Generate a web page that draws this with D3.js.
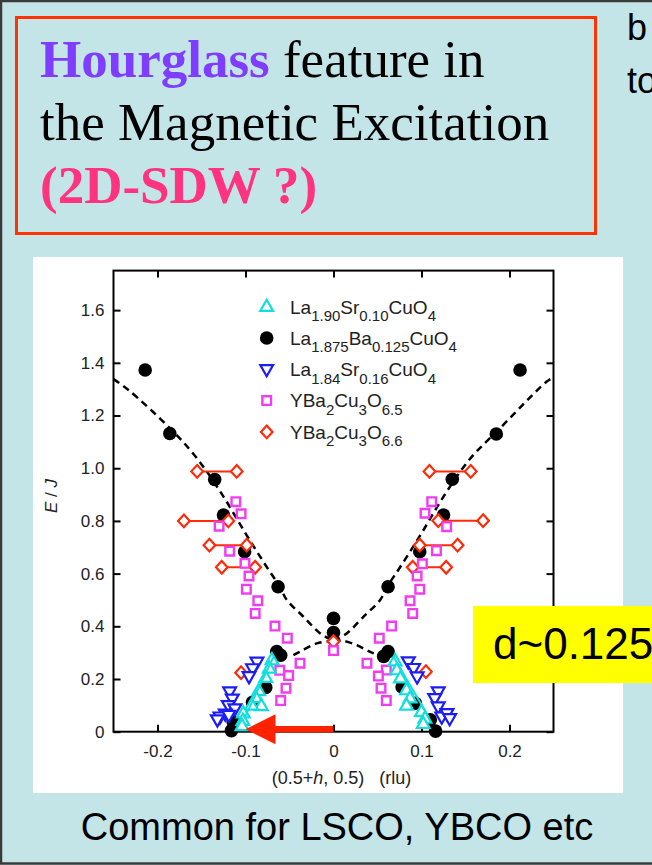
<!DOCTYPE html>
<html>
<head>
<meta charset="utf-8">
<script src="https://cdn.jsdelivr.net/npm/d3@7/dist/d3.min.js"></script>
<style>
  body { margin: 0; background: #c4e5e7; }
  svg { display: block; }
</style>
</head>
<body>
<script>
// ---- axis ticks ----
const xTicks = [-0.2, -0.1, 0, 0.1, 0.2];
const yTicks = [0, 0.2, 0.4, 0.6, 0.8, 1.0, 1.2, 1.4, 1.6];

// ---- La1.90Sr0.10CuO4 (h, E/J) ----
const lsco010 = [
  [-0.070, 0.272], [-0.073, 0.240], [-0.077, 0.205], [-0.085, 0.155], [-0.088, 0.128],
  [-0.082, 0.098], [-0.093, 0.100], [-0.1025, 0.070], [-0.103, 0.042], [-0.104, 0.022],
  [0.070, 0.268], [0.072, 0.234], [0.076, 0.203], [0.083, 0.158], [0.087, 0.127],
  [0.083, 0.100], [0.100, 0.076], [0.104, 0.050], [0.102, 0.030]
];
// straight lines through the La1.90Sr0.10CuO4 points
const lsco010Fits = [
  [[-0.068, 0.285], [-0.1005, 0.057]],
  [[0.068, 0.285], [0.106, 0.068]]
];

// ---- La1.875Ba0.125CuO4 ----
const lbco = [
  [-0.214, 1.373], [-0.186, 1.132], [-0.135, 0.957], [-0.125, 0.822], [-0.101, 0.683],
  [-0.063, 0.550], [-0.0645, 0.304], [-0.060, 0.290], [-0.077, 0.168], [-0.092, 0.112],
  [-0.114, 0.038], [-0.116, 0.004],
  [0, 0.430], [0, 0.376],
  [0.212, 1.373], [0.185, 1.130], [0.135, 0.958], [0.125, 0.822], [0.098, 0.683],
  [0.062, 0.550], [0.062, 0.304], [0.057, 0.286], [0.078, 0.170], [0.093, 0.108],
  [0.110, 0.045], [0.116, 0.002]
];

// ---- La1.84Sr0.16CuO4 ----
const lsco016 = [
  [-0.087, 0.265], [-0.092, 0.240], [-0.096, 0.210], [-0.118, 0.152], [-0.115, 0.125],
  [-0.1195, 0.100], [-0.112, 0.088], [-0.123, 0.068], [-0.129, 0.057], [-0.132, 0.046],
  [-0.119, 0.063],
  [0.085, 0.266], [0.091, 0.241], [0.095, 0.209], [0.119, 0.152], [0.115, 0.127],
  [0.119, 0.095], [0.123, 0.057], [0.129, 0.070], [0.132, 0.051]
];

// ---- YBa2Cu3O6.5 ----
const ybco65 = [
  [-0.111, 0.873], [-0.105, 0.827], [-0.130, 0.780], [-0.118, 0.685], [-0.1006, 0.639],
  [-0.096, 0.591], [-0.099, 0.541], [-0.086, 0.497], [-0.089, 0.449], [-0.0665, 0.401],
  [-0.0525, 0.355], [-0.038, 0.260], [-0.061, 0.233], [-0.051, 0.213], [-0.054, 0.165],
  [-0.060, 0.118],
  [0, 0.308],
  [0.1116, 0.873], [0.104, 0.829], [0.1286, 0.778], [0.117, 0.687], [0.101, 0.637],
  [0.095, 0.591], [0.098, 0.541], [0.087, 0.497], [0.090, 0.449], [0.066, 0.401],
  [0.052, 0.355], [0.038, 0.260], [0.060, 0.234], [0.051, 0.211], [0.054, 0.165],
  [0.060, 0.118]
];

// ---- YBa2Cu3O6.6: peak pairs [h1, h2, E] and single peaks [h, E] ----
const ybco66Pairs = [
  [-0.155, -0.110, 0.988], [-0.170, -0.1195, 0.800], [-0.141, -0.0986, 0.708], [-0.127, -0.089, 0.624],
  [0.109, 0.156, 0.988], [0.119, 0.170, 0.801], [0.098, 0.141, 0.708], [0.090, 0.128, 0.624]
];
const ybco66Single = [[-0.105, 0.224], [0.105, 0.228], [0, 0.342]];

// ---- dispersion guide (dashed) ----
const guideUpperLeft = [
  [-0.25, 1.338], [-0.233, 1.297], [-0.186, 1.152], [-0.155, 1.037], [-0.125, 0.892],
  [-0.100, 0.753], [-0.076, 0.626], [-0.061, 0.550], [-0.053, 0.500], [-0.034, 0.436],
  [-0.015, 0.373], [0, 0.345]
];
const guideUpperRight = [
  [0, 0.345], [0.015, 0.373], [0.034, 0.436], [0.053, 0.500], [0.061, 0.550],
  [0.076, 0.626], [0.100, 0.753], [0.125, 0.892], [0.155, 1.035], [0.189, 1.151],
  [0.242, 1.328], [0.25, 1.345]
];
const guideLowerLeft = [[0, 0.345], [-0.019, 0.335], [-0.038, 0.304], [-0.049, 0.285]];
const guideLowerRight = [[0, 0.345], [0.011, 0.345], [0.026, 0.329], [0.041, 0.304], [0.053, 0.287]];

// ---- legend: alternating [normal, subscript] pieces ----
const legendLabels = [
  ["La", "1.90", "Sr", "0.10", "CuO", "4"],
  ["La", "1.875", "Ba", "0.125", "CuO", "4"],
  ["La", "1.84", "Sr", "0.16", "CuO", "4"],
  ["YBa", "2", "Cu", "3", "O", "6.5"],
  ["YBa", "2", "Cu", "3", "O", "6.6"]
];
const legendKinds = ["up", "circle", "down", "square", "diamond"];

// ---- colours ----
const C = {
  cyan: "#12dede", black: "#000", blue: "#1c1cf5", magenta: "#f23cf2", red: "#ff2a0a",
  bg: "#c4e5e7", frame: "#ff3300"
};

const W = 652, H = 865;
const svg = d3.select("body").append("svg").attr("width", W).attr("height", H);

// slide background and frame
svg.append("rect").attr("width", W).attr("height", H).attr("fill", C.bg);
svg.append("path").attr("d", `M${W},1 H1 V${H - 1.5} H${W}`)
  .attr("fill", "none").attr("stroke", "#3a3a3a").attr("stroke-width", 2.5);

// title box
svg.append("rect").attr("x", 16.5).attr("y", 17.5).attr("width", 579).attr("height", 216)
  .attr("fill", "none").attr("stroke", C.frame).attr("stroke-width", 3);
const serif = "'Liberation Serif', 'Times New Roman', serif";
const sans = "'Liberation Sans', Arial, Helvetica, sans-serif";
const t1 = svg.append("text").attr("x", 40).attr("y", 77).attr("font-family", serif).attr("font-size", 53);
t1.append("tspan").attr("font-weight", "bold").attr("fill", "#7f3dff").text("Hourglass");
t1.append("tspan").attr("fill", "#000").text(" feature in");
svg.append("text").attr("x", 40).attr("y", 140).attr("font-family", serif).attr("font-size", 53)
  .attr("fill", "#000").text("the Magnetic Excitation");
svg.append("text").attr("x", 40).attr("y", 203).attr("font-family", serif).attr("font-size", 53)
  .attr("font-weight", "bold").attr("fill", "#ff3380").text("(2D-SDW ?)");

// side text running off the right edge
svg.append("text").attr("x", 627).attr("y", 40).attr("font-family", sans).attr("font-size", 36).text("b");
svg.append("text").attr("x", 627).attr("y", 93).attr("font-family", sans).attr("font-size", 36).text("to");

// white figure panel
svg.append("rect").attr("x", 33).attr("y", 257).attr("width", 590).attr("height", 536).attr("fill", "#fff");

// ---- plot ----
const x = d3.scaleLinear().domain([-0.25, 0.25]).range([113.5, 553.5]);
const y = d3.scaleLinear().domain([0, 1.75]).range([731.7, 270.6]);
const g = svg.append("g");

const fmt = d => d === 0 ? "0" : d.toFixed(1);
const styleAxis = sel => {
  sel.select(".domain").remove();
  sel.selectAll(".tick line").attr("stroke", "#000").attr("stroke-width", 2);
  sel.selectAll(".tick text").attr("font-family", sans).attr("font-size", 17).attr("fill", "#222");
};
g.append("g").attr("transform", `translate(0,${y(0)})`)
  .call(d3.axisBottom(x).tickValues(xTicks).tickSize(-7).tickPadding(13).tickFormat(fmt)).call(styleAxis);
g.append("g").attr("transform", `translate(0,${y(1.75)})`)
  .call(d3.axisTop(x).tickValues(xTicks).tickSize(-7).tickFormat("")).call(styleAxis);
g.append("g").attr("transform", `translate(${x(-0.25)},0)`)
  .call(d3.axisLeft(y).tickValues(yTicks).tickSize(-7).tickPadding(9).tickFormat(fmt)).call(styleAxis);
g.append("g").attr("transform", `translate(${x(0.25)},0)`)
  .call(d3.axisRight(y).tickValues(yTicks).tickSize(-7).tickFormat("")).call(styleAxis);
g.append("rect").attr("x", x(-0.25)).attr("y", y(1.75))
  .attr("width", x(0.25) - x(-0.25)).attr("height", y(0) - y(1.75))
  .attr("fill", "none").attr("stroke", "#000").attr("stroke-width", 2);

// axis titles
const yl = g.append("text").attr("transform", `translate(57,496) rotate(-90)`)
  .attr("text-anchor", "middle").attr("font-family", sans).attr("font-size", 17).attr("fill", "#222");
yl.append("tspan").attr("font-style", "italic").text("E");
yl.append("tspan").text(" / ");
yl.append("tspan").attr("font-style", "italic").text("J");
const xl = g.append("text").attr("x", 341.5).attr("y", 784).attr("text-anchor", "middle")
  .attr("font-family", sans).attr("font-size", 18).attr("fill", "#222").style("white-space", "pre");
xl.append("tspan").text("(0.5+");
xl.append("tspan").attr("font-style", "italic").text("h");
xl.append("tspan").text(", 0.5)   (rlu)");

// dashed dispersion guide
const guide = d3.line().x(d => x(d[0])).y(d => y(d[1])).curve(d3.curveCatmullRom);
[guideUpperLeft, guideUpperRight, guideLowerLeft, guideLowerRight].forEach(seg => {
  g.append("path").attr("d", guide(seg)).attr("fill", "none")
    .attr("stroke", "#000").attr("stroke-width", 2.5).attr("stroke-dasharray", "7,5");
});

// marker shapes
const shapes = {
  up: "M0,-7L6.4,4.2L-6.4,4.2Z",
  down: "M0,7L6.4,-4.2L-6.4,-4.2Z",
  square: "M-4.3,-4.3H4.3V4.3H-4.3Z",
  diamond: "M0,-6.3L5.8,0L0,6.3L-5.8,0Z"
};
function marker(sel, kind) {
  if (kind === "circle") {
    sel.append("circle").attr("r", 6.8).attr("fill", C.black);
  } else {
    const col = { up: C.cyan, down: C.blue, square: C.magenta, diamond: C.red }[kind];
    sel.append("path").attr("d", shapes[kind]).attr("fill", "#fff")
      .attr("stroke", col).attr("stroke-width", kind === "square" ? 2.4 : 2.2)
      .attr("stroke-linejoin", "miter");
  }
}
function plotPoints(data, kind) {
  g.append("g").selectAll("g").data(data).join("g")
    .attr("transform", d => `translate(${x(d[0])},${y(d[1])})`)
    .each(function () { marker(d3.select(this), kind); });
}

plotPoints(lbco, "circle");

// YBa2Cu3O6.6 peak pairs joined by a line
g.append("g").selectAll("line").data(ybco66Pairs).join("line")
  .attr("x1", d => x(d[0])).attr("x2", d => x(d[1]))
  .attr("y1", d => y(d[2])).attr("y2", d => y(d[2]))
  .attr("stroke", C.red).attr("stroke-width", 2);
plotPoints(ybco66Pairs.flatMap(d => [[d[0], d[2]], [d[1], d[2]]]).concat(ybco66Single), "diamond");

plotPoints(ybco65, "square");
plotPoints(lsco016, "down");
plotPoints(lsco010, "up");
lsco010Fits.forEach(f => {
  g.append("line").attr("x1", x(f[0][0])).attr("y1", y(f[0][1]))
    .attr("x2", x(f[1][0])).attr("y2", y(f[1][1]))
    .attr("stroke", C.cyan).attr("stroke-width", 2);
});

// legend
const leg = g.append("g");
legendLabels.forEach((parts, i) => {
  const cy = 306.7 + i * 31.3;
  const m = leg.append("g").attr("transform", `translate(266.7,${cy})`);
  marker(m, legendKinds[i]);
  const t = leg.append("text").attr("x", 290).attr("y", cy + 6.8)
    .attr("font-family", sans).attr("font-size", 19).attr("fill", "#222");
  parts.forEach((p, j) => {
    if (j % 2 === 0) {
      t.append("tspan").attr("dy", j === 0 ? 0 : -7.5).text(p);
    } else {
      t.append("tspan").attr("dy", 7.5).attr("font-size", 15).text(p);
    }
  });
});

// red arrow pointing at h = -0.1 on the energy axis floor
const ay = y(0.009);
g.append("line").attr("x1", x(0)).attr("x2", x(-0.1) + 26).attr("y1", ay).attr("y2", ay)
  .attr("stroke", "#ff2200").attr("stroke-width", 6.5);
g.append("path")
  .attr("d", `M${x(-0.1)},${ay} L${x(-0.1) + 30},${ay - 15} L${x(-0.1) + 30},${ay + 15} Z`)
  .attr("fill", "#ff2200");

// yellow callout running off the right edge
svg.append("rect").attr("x", 473).attr("y", 606).attr("width", 200).attr("height", 77).attr("fill", "#ffff00");
svg.append("text").attr("x", 493).attr("y", 659).attr("font-family", sans).attr("font-size", 44)
  .attr("fill", "#000").text("d~0.125");

// caption
svg.append("text").attr("x", 337).attr("y", 840).attr("text-anchor", "middle")
  .attr("font-family", sans).attr("font-size", 38).attr("fill", "#000").text("Common for LSCO, YBCO etc");
</script>
</body>
</html>
